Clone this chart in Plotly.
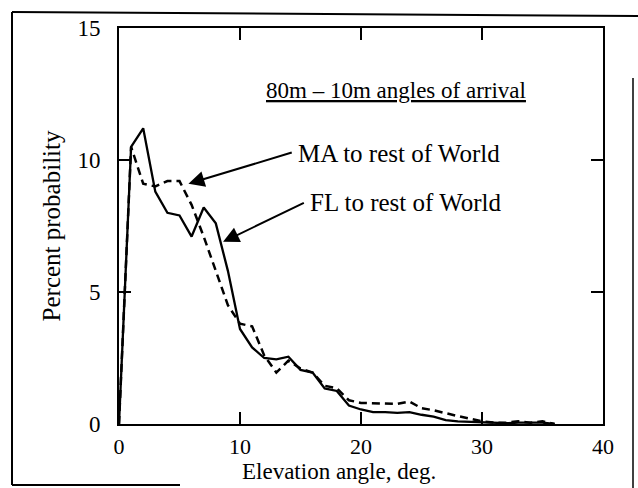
import plotly.graph_objects as go

# Elevation angle (deg)
angle = list(range(0, 37))

# FL to rest of World (solid)
fl_prob = [0.0, 10.5, 11.2, 8.8, 8.0, 7.9, 7.1, 8.2, 7.6, 5.8,
           3.6, 2.9, 2.5, 2.45, 2.55, 2.05, 1.95, 1.35, 1.25, 0.7,
           0.55, 0.45, 0.45, 0.42, 0.45, 0.35, 0.28, 0.15, 0.1, 0.08,
           0.06, 0.05, 0.03, 0.05, 0.05, 0.05, 0.0]

# MA to rest of World (dashed)
ma_prob = [0.0, 10.5, 9.1, 9.0, 9.2, 9.2, 8.3, 7.1, 5.8, 4.5,
           3.8, 3.7, 2.6, 1.95, 2.4, 2.1, 1.95, 1.45, 1.35, 0.9,
           0.8, 0.78, 0.76, 0.76, 0.85, 0.6, 0.52, 0.4, 0.3, 0.2,
           0.1, 0.05, 0.05, 0.1, 0.05, 0.1, 0.0]

x_ticks = [0, 10, 20, 30, 40]
y_ticks = [0, 5, 10, 15]

FONT = "Liberation Serif"
W, H = 638, 488
L, R, T, B = 119, 35, 28, 64


def px(xp):
    return (xp - L) / (W - L - R)


def py(yp):
    return (H - B - yp) / (H - T - B)


fig = go.Figure()
fig.add_trace(go.Scatter(x=angle, y=ma_prob, mode="lines", cliponaxis=False,
                         line=dict(color="black", width=2.5, dash="8px,5px"),
                         name="MA to rest of World"))
fig.add_trace(go.Scatter(x=angle, y=fl_prob, mode="lines", cliponaxis=False,
                         line=dict(color="black", width=2.3),
                         name="FL to rest of World"))

axis_common = dict(showgrid=False, zeroline=False, showline=True, linecolor="black",
                   linewidth=2, mirror="ticks", ticks="inside", ticklen=12,
                   tickwidth=2, tickcolor="black")

fig.update_xaxes(range=[0, 40], tickvals=x_ticks, ticktext=[str(v) for v in x_ticks],
                 ticklabelstandoff=2, tickfont=dict(family=FONT, size=22, color="black"),
                 **axis_common)
fig.update_yaxes(range=[0, 15], tickvals=y_ticks, ticktext=[str(v) for v in y_ticks],
                 title=dict(text="Percent probability", font=dict(family=FONT, size=25, color="black"),
                            standoff=10),
                 ticklabelstandoff=12, tickfont=dict(family=FONT, size=23, color="black"),
                 **axis_common)

TXT = dict(family=FONT, size=25, color="black")
anns = [
    dict(x=22.9, y=12.65, xref="x", yref="y", text="<u>80m – 10m angles of arrival</u>",
         showarrow=False, font=dict(family=FONT, size=23, color="black")),
    dict(x=14.6, y=10.25, xref="x", yref="y", xanchor="left", text="MA to rest of World",
         showarrow=False, font=TXT),
    dict(x=15.6, y=8.4, xref="x", yref="y", xanchor="left", text="FL to rest of World",
         showarrow=False, font=TXT),
    dict(x=18.2, y=py(472), xref="x", yref="paper", xanchor="center", yanchor="middle",
         text="Elevation angle, deg.", showarrow=False,
         font=dict(family=FONT, size=23, color="black")),
    dict(x=5.74, y=9.1, ax=14.4, ay=10.3, xref="x", yref="y", axref="x", ayref="y",
         text="", showarrow=True, arrowhead=2, arrowsize=1.6, arrowwidth=2, arrowcolor="black"),
    dict(x=8.6, y=6.9, ax=15.4, ay=8.4, xref="x", yref="y", axref="x", ayref="y",
         text="", showarrow=True, arrowhead=2, arrowsize=1.6, arrowwidth=2, arrowcolor="black"),
]

shapes = [
    dict(type="line", xref="paper", yref="paper", x0=px(12), y0=py(12), x1=px(638), y1=py(16),
         line=dict(color="black", width=2)),
    dict(type="line", xref="paper", yref="paper", x0=px(12), y0=py(12), x1=px(12), y1=py(485),
         line=dict(color="black", width=2)),
    dict(type="line", xref="paper", yref="paper", x0=px(12), y0=py(485), x1=px(180), y1=py(485),
         line=dict(color="black", width=2)),
    dict(type="line", xref="paper", yref="paper", x0=px(633), y0=py(78), x1=px(633), y1=py(488),
         line=dict(color="black", width=1.5)),
]

fig.update_layout(width=W, height=H, margin=dict(l=L, r=R, t=T, b=B),
                  paper_bgcolor="white", plot_bgcolor="white", showlegend=False,
                  annotations=anns, shapes=shapes,
                  font=dict(family=FONT, color="black"))

fig.write_html("out.html")
